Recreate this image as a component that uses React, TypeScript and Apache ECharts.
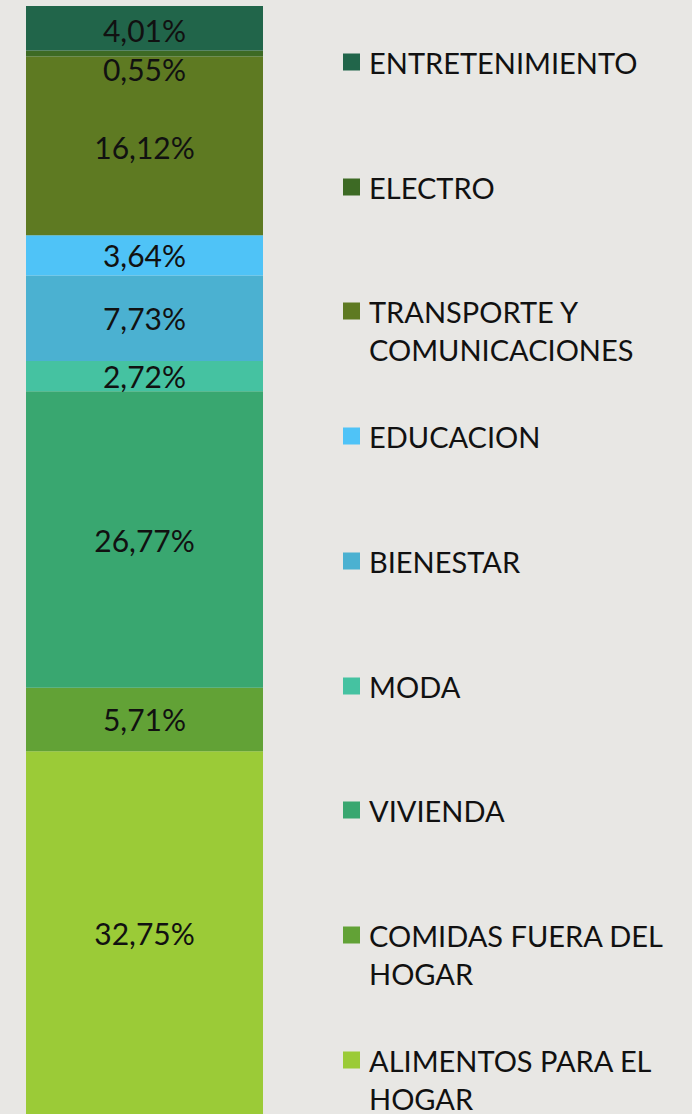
import React, { useEffect, useRef } from "react";
import * as echarts from "echarts";

// bottom to top
const categories = [
  "ALIMENTOS PARA EL\nHOGAR",
  "COMIDAS FUERA DEL\nHOGAR",
  "VIVIENDA",
  "MODA",
  "BIENESTAR",
  "EDUCACION",
  "TRANSPORTE Y\nCOMUNICACIONES",
  "ELECTRO",
  "ENTRETENIMIENTO",
];
const values = [32.75, 5.71, 26.77, 2.72, 7.73, 3.64, 16.12, 0.55, 4.01];
const colors = [
  "#9bcb37",
  "#62a236",
  "#39a770",
  "#45c2a1",
  "#4bb1d1",
  "#4fc3f7",
  "#5e7a22",
  "#3d6a24",
  "#21654a",
];
const labelOffsets = [0, 0, 0, 0, 0, 0, 1, 16, 2];
// legend order: top to bottom, first-line centres
const legendOrder = [8, 7, 6, 5, 4, 3, 2, 1, 0];
const legendY = [62, 187, 311, 436, 561, 686, 810, 935, 1060];

const FONT = "Lato, 'Open Sans', sans-serif";
const LH = 38;

export default function App() {
  const ref = useRef<HTMLDivElement>(null);
  useEffect(() => {
    const chart = echarts.init(ref.current!, null, { renderer: "svg" });
    const series = categories.map((name, i) => ({
      name,
      type: "bar",
      stack: "total",
      barWidth: 237,
      data: [values[i]],
      itemStyle: { color: colors[i] },
      label: {
        show: true,
        position: "inside",
        offset: [0, labelOffsets[i]],
        formatter: () => values[i].toFixed(2).replace(".", ",") + "%",
        color: "#111",
        fontSize: 30,
        fontFamily: FONT,
      },
    }));
    const legends = legendOrder.map((idx, k) => {
      const name = categories[idx];
      const twoLines = name.includes("\n");
      return {
        show: true,
        orient: "vertical",
        left: 343,
        top: legendY[k] - (twoLines ? LH * 1.5 : LH / 2),
        padding: 0,
        itemWidth: 17,
        itemHeight: 17,
        selectedMode: false,
        icon: "rect",
        data: [name],
        formatter: (n: string) => (n.includes("\n") ? "\n" + n : n),
        textStyle: {
          color: "#111",
          fontSize: 29,
          fontFamily: FONT,
          lineHeight: LH,
          padding: [0, 0, 0, 4],
        },
      };
    });
    chart.setOption({
      animation: false,
      backgroundColor: "#e8e7e4",
      grid: { left: 26, width: 237, top: 6, height: 1110 },
      xAxis: { type: "category", data: [""], show: false },
      yAxis: { type: "value", min: 0, max: 100, show: false },
      legend: legends,
      series,
    });
    return () => chart.dispose();
  }, []);
  return (
    <div
      ref={ref}
      style={{ position: "absolute", left: 0, top: 0, width: 692, height: 1114 }}
    />
  );
}
